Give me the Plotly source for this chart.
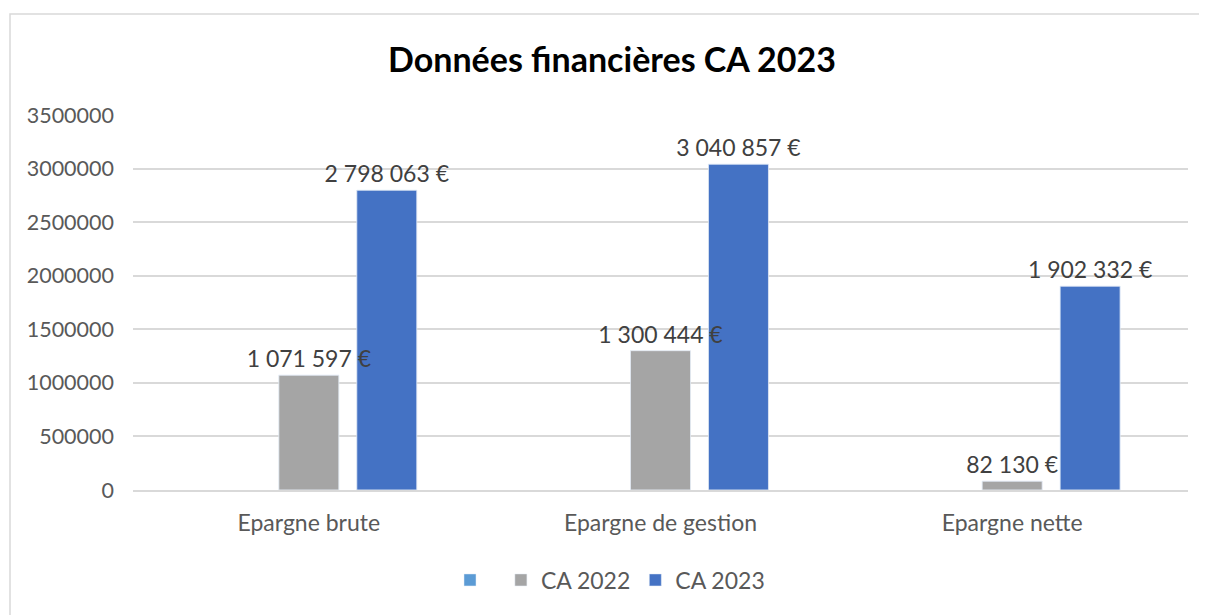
import plotly.graph_objects as go

categories = ["Epargne brute", "Epargne de gestion", "Epargne nette"]
serie_vide = [None, None, None]
ca_2022 = [1071597, 1300444, 82130]
ca_2023 = [2798063, 3040857, 1902332]
y_ticks = [0, 500000, 1000000, 1500000, 2000000, 2500000, 3000000, 3500000]

FONT = "Lato"
label_font = dict(family=FONT, size=23, color="#404040")

# page body has an 8px margin -> compensate
L, T = 125, 107
PW, PH = 1055, 375

fig = go.Figure()
fig.add_trace(go.Bar(x=categories, y=serie_vide, name=" ", marker_color="#5B9BD5",
                     offsetgroup="s0"))
fig.add_trace(go.Bar(x=categories, y=ca_2022, name="CA 2022", marker_color="#A5A5A5",
                     offsetgroup="s1"))
fig.add_trace(go.Bar(x=categories, y=ca_2023, name="CA 2023", marker_color="#4472C4",
                     offsetgroup="s2"))
# data labels drawn on top of all bars (same slots, transparent bars)
for vals, grp in ((ca_2022, "s1"), (ca_2023, "s2")):
    fig.add_trace(go.Bar(x=categories, y=vals, offsetgroup=grp, showlegend=False,
                         marker_color="rgba(0,0,0,0)", hoverinfo="skip",
                         texttemplate="%{y:,.0f} €", textposition="outside",
                         textfont=label_font, constraintext="none", cliponaxis=False))

fig.update_layout(
    width=1207, height=615,
    margin=dict(l=L, r=1207 - L - PW, t=T, b=615 - T - PH),
    paper_bgcolor="white", plot_bgcolor="white",
    separators=", ",
    barmode="group", bargap=0.335, bargroupgap=0.23,
    title=dict(text="<b>Données financières CA 2023</b>", x=(612 - 8) / 1207, xanchor="center",
               y=1 - 52 / 615, yanchor="middle", yref="container",
               font=dict(family=FONT, size=34, color="#000000")),
    legend=dict(orientation="h", x=(610 - 8 - L) / PW, xanchor="center",
                y=(490 - 580) / PH, yanchor="middle",
                font=dict(family=FONT, size=23, color="#595959"), itemwidth=30),
    xaxis=dict(tickfont=dict(family=FONT, size=23, color="#595959"), showline=True,
               linecolor="#D9D9D9", linewidth=1.5, ticks="", showgrid=False,
               ticklabelstandoff=12),
    yaxis=dict(range=[0, 3500000], tickvals=y_ticks, tickformat="d",
               tickfont=dict(family=FONT, size=21.5, color="#595959"),
               showgrid=True, gridcolor="#D9D9D9", gridwidth=1.5, zeroline=False,
               ticks="", ticklabelstandoff=18, showline=False),
    shapes=[dict(type="rect", xref="paper", yref="paper",
                 x0=(2 - L) / PW, x1=(1205 - L) / PW,
                 y0=-0.5, y1=(482 - 6) / PH,
                 line=dict(color="#D9D9D9", width=1.5), fillcolor="rgba(0,0,0,0)",
                 layer="below")],
)

fig.write_html("out.html")
